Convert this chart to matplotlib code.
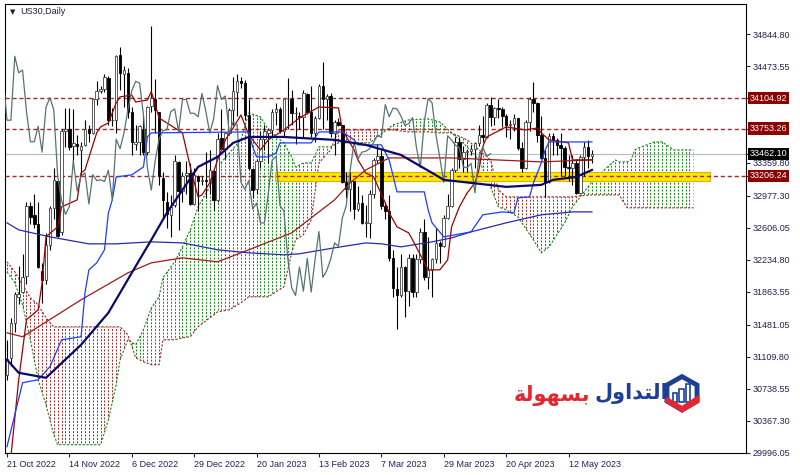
import numpy as np
import matplotlib
matplotlib.use("Agg")
import matplotlib.pyplot as plt
import matplotlib.transforms as mtransforms
from matplotlib.path import Path
from matplotlib.patches import Rectangle, Polygon

plt.rcParams['font.family'] = ['Liberation Sans', 'DejaVu Sans']

# US30 daily candles, 21 Oct 2022 .. 22 May 2023 (x = bar number)
opens = [30900, 31100, 31500, 31800, 31860, 32050, 32860, 32750, 32650, 32100,
         32000, 32400, 32830, 33150, 32550, 33720, 33750, 33550, 33580, 33500,
         33560, 33750, 33700, 34100, 34190, 34210, 34340, 33850, 33850, 34600,
         34380, 34400, 33950, 33580, 33600, 33750, 33480, 34010, 34100, 33950,
         33180, 32900, 32750, 32870, 33370, 33030, 33210, 33240, 32880, 33200,
         33150, 33160, 33140, 33260, 32930, 33640, 33520, 33700, 33970, 34180,
         34300, 34280, 33910, 33290, 33050, 33380, 33630, 33700, 33740, 33950,
         33980, 33720, 34090, 34090, 33930, 33900, 33890, 34150, 33950, 33700,
         33870, 34250, 34090, 34130, 33700, 33830, 33800, 33130, 33050, 33150,
         32820, 32890, 32660, 32660, 33000, 33390, 33430, 32860, 32800, 32250,
         31900, 31820, 32150, 31870, 32250, 31860, 32240, 32560, 32030, 32110,
         32240, 32430, 32390, 32720, 32860, 33270, 33600, 33400, 33480, 33490,
         33520, 33590, 33680, 33650, 34030, 33890, 33990, 33980, 33900, 33790,
         33810, 33880, 33530, 33300, 33830, 34100, 34050, 33680, 33410, 33130,
         33670, 33620, 33560, 33530, 33310, 33300, 33350, 33010, 33420, 33540,
         33430]
highs = [31300, 31560, 31860, 32160, 32300, 32900, 32900, 33000, 32900, 32200,
         32540, 32860, 33300, 33160, 33750, 33990, 33990, 33980, 33680, 33600,
         33850, 33800, 34110, 34300, 34250, 34390, 34360, 33990, 34600, 34700,
         34480, 34450, 34000, 33800, 33800, 33900, 34020, 34940, 34330, 33950,
         33250, 33020, 32980, 33450, 33380, 33250, 33380, 33350, 33300, 33220,
         33200, 33480, 33500, 33270, 33700, 33980, 33710, 33990, 34350, 34390,
         34350, 34320, 34100, 33300, 33400, 33730, 33800, 33760, 33980, 34050,
         34000, 34100, 34340, 34200, 34000, 33950, 34200, 34170, 34250, 33900,
         34270, 34520, 34150, 34160, 33850, 33880, 33800, 33250, 33250, 33150,
         33090, 32980, 32870, 33040, 33410, 33570, 33510, 32900, 32980, 32350,
         32150, 32300, 32160, 32300, 32300, 32300, 32600, 32700, 32500, 32250,
         32600, 32450, 32750, 33000, 33300, 33650, 33650, 33550, 33520, 33560,
         33600, 33800, 33900, 34050, 34120, 34000, 34100, 34000, 33920, 33850,
         33920, 33880, 33600, 33850, 34120, 34290, 34060, 33900, 33500, 33700,
         33700, 33640, 33700, 33550, 33450, 33450, 33400, 33450, 33600, 33620,
         33500]
lows = [30840, 31000, 31400, 31720, 31850, 31950, 32650, 32600, 32140, 31730,
        31950, 32350, 32700, 32500, 32520, 33540, 33500, 33380, 33450, 33200,
        33550, 33600, 33690, 34030, 34160, 34180, 33800, 33780, 33700, 34200,
        34000, 33880, 33450, 33500, 33450, 33450, 33450, 33950, 33700, 33100,
        32700, 32600, 32500, 32850, 32580, 32900, 33000, 32870, 32870, 32800,
        33100, 32950, 33000, 32810, 32900, 33500, 33400, 33680, 33800, 33900,
        34220, 33850, 33270, 32950, 33000, 33300, 33500, 33350, 33650, 33800,
        33700, 33650, 33750, 33800, 33580, 33750, 33650, 33920, 33650, 33600,
        33860, 33750, 33850, 33650, 33450, 33780, 33120, 32950, 32800, 32700,
        32800, 32650, 32500, 32480, 32950, 33350, 32820, 32700, 32220, 31800,
        31430, 31800, 31570, 31700, 31800, 31800, 32200, 32000, 31900, 31800,
        32200, 32200, 32380, 32700, 32850, 33250, 33300, 33250, 33250, 33450,
        33300, 33550, 33600, 33640, 33780, 33800, 33880, 33770, 33650, 33630,
        33720, 33500, 33250, 33290, 33730, 33950, 33600, 33400, 32960, 33120,
        33450, 33450, 33200, 33200, 33150, 33100, 33000, 32990, 33200, 33300,
        33350]
closes = [31080, 31500, 31840, 31840, 32030, 32860, 32730, 32650, 32150, 32000,
          32400, 32830, 33160, 32510, 33720, 33750, 33540, 33590, 33550, 33550,
          33750, 33700, 34100, 34190, 34210, 34350, 33850, 33850, 34590, 34400,
          34430, 33950, 33600, 33600, 33780, 33480, 34000, 34110, 33970, 33200,
          32920, 32760, 32850, 33380, 33030, 33200, 33240, 32880, 33220, 33150,
          33160, 33140, 33270, 32930, 33630, 33520, 33700, 33970, 34190, 34300,
          34280, 33910, 33300, 33040, 33380, 33630, 33730, 33740, 33950, 33980,
          33720, 34090, 34090, 33930, 33930, 33890, 34160, 33950, 33700, 33870,
          34250, 34090, 34130, 33700, 33830, 33800, 33130, 33050, 33150, 32820,
          32890, 32660, 32660, 33000, 33390, 33430, 32860, 32800, 32250, 31910,
          31820, 32150, 31870, 32250, 31860, 32240, 32560, 32030, 32110, 32240,
          32430, 32390, 32720, 32860, 33270, 33600, 33400, 33480, 33490, 33520,
          33590, 33680, 33650, 34030, 33890, 33990, 33980, 33900, 33790, 33810,
          33880, 33530, 33300, 33830, 34100, 34050, 33680, 33410, 33130, 33670,
          33620, 33560, 33530, 33310, 33300, 33350, 33010, 33420, 33540, 33430,
          33462.1]

date_ticks = [0, 16, 32, 48, 64, 80, 96, 112, 128, 144]
date_labels = ['21 Oct 2022', '14 Nov 2022', '6 Dec 2022', '29 Dec 2022', '20 Jan 2023',
               '13 Feb 2023', '7 Mar 2023', '29 Mar 2023', '20 Apr 2023', '12 May 2023']

# indicator lines (bar number, price)
tenkan_idx = [1, 3, 5, 8, 9, 10, 13, 14, 18, 19, 20, 23, 24, 26, 28, 29, 32, 33, 36, 37,
              39, 45, 47, 49, 50, 52, 54, 56, 58, 60, 62, 65, 67, 71, 75, 80, 85, 86, 89,
              90, 92, 94, 97, 98, 100, 103, 104, 108, 111, 113, 114, 116, 118, 120, 121,
              122, 123, 128, 133, 136, 137, 139, 144, 145, 150]
tenkan_val = [29950, 30844, 31539, 31654, 31967, 32499, 32615, 32846, 32927, 33240, 33274,
              33703, 33772, 33818, 34050, 34120, 34140, 34060, 34084, 34180, 33876, 33703,
              33309, 32962, 32985, 33124, 33390, 33622, 33760, 33911, 33679, 33506, 33622,
              33737, 33876, 34003, 33992, 33737, 33506, 33390, 33240, 33193, 32892, 32777,
              32615, 32545, 32464, 32117, 32117, 32233, 32615, 32846, 33008, 33124, 33274,
              33541, 33656, 33772, 33737, 33760, 33703, 33622, 33587, 33390, 33390]
kijun_idx = [0, 4, 8, 11, 14, 19, 20, 21, 23, 25, 26, 27, 28, 32, 35, 36, 37, 62, 63, 64,
             67, 69, 70, 78, 80, 86, 89, 90, 96, 98, 100, 107, 108, 109, 112, 119, 122,
             127, 130, 131, 134, 135, 137, 138, 139, 150]
kijun_val = [30069, 30810, 30844, 30995, 31307, 31342, 31851, 32117, 32198, 32349, 32777,
             32927, 33193, 33217, 33309, 33656, 33703, 33714, 33541, 33425, 33425, 33471,
             33587, 33587, 33714, 33714, 33622, 33564, 33564, 33390, 33020, 33020, 32812,
             32661, 32499, 32557, 32754, 32788, 32777, 32950, 32962, 33124, 33355, 33506,
             33598, 33598]
chikou_shift = 26

ma_red_idx = [0, 4, 19, 31, 37, 45, 54, 62, 73, 84, 88, 92, 98, 114, 137, 150]
ma_red_val = [31388, 31342, 31770, 32082, 32198, 32256, 32210, 32349, 32545, 32927, 33124,
              33274, 33413, 33413, 33367, 33390]
ma_blue_idx = [0, 3, 11, 21, 28, 37, 45, 54, 62, 71, 75, 84, 92, 96, 101, 109, 114, 119,
               128, 137, 145, 150]
ma_blue_val = [32661, 32580, 32499, 32418, 32418, 32441, 32429, 32349, 32314, 32291, 32303,
               32372, 32429, 32418, 32383, 32441, 32487, 32557, 32661, 32754, 32788, 32788]
ma_navy_idx = [0, 3, 10, 19, 26, 32, 37, 41, 45, 49, 54, 58, 62, 71, 75, 84, 92, 101, 109,
               112, 119, 128, 137, 140, 146, 150]
ma_navy_val = [31076, 30925, 30867, 31249, 31620, 32082, 32464, 32777, 33043, 33309, 33425,
               33587, 33656, 33656, 33645, 33622, 33564, 33448, 33240, 33159, 33124, 33078,
               33101, 33159, 33193, 33274]

# ichimoku cloud, shifted 26 bars ahead
cloud_idx = [0, 2, 4, 6, 8, 10, 12, 13, 24, 26, 28, 29, 31, 33, 35, 37, 39, 40, 43, 45,
             47, 49, 52, 54, 57, 60, 62, 65, 67, 71, 73, 74, 76, 78, 80, 83, 85, 93, 99,
             103, 108, 111, 114, 118, 121, 124, 126, 128, 131, 135, 137, 139, 143, 145,
             147, 150, 154, 156, 157, 159, 160, 161, 162, 166, 168, 171, 173, 176]
span_a = [32094, 31967, 31712, 31307, 30844, 30555, 30208, 30092, 30092, 30381, 30786,
          31076, 31307, 31249, 31423, 31677, 31805, 32025, 32210, 32383, 32580, 32846,
          33078, 33309, 33471, 33622, 33934, 33888, 33737, 33587, 33425, 33309, 33355,
          33355, 33541, 33541, 33587, 33587, 33795, 33853, 33865, 33830, 33703, 33541,
          33390, 33078, 32846, 32812, 32730, 32464, 32314, 32383, 32661, 32846, 32962,
          33136, 33309, 33390, 33367, 33367, 33390, 33506, 33529, 33598, 33598, 33506,
          33506, 33506]
span_b = [32210, 32094, 31944, 31793, 31712, 31562, 31457, 31457, 31457, 31457, 31457,
          31457, 31365, 31099, 31053, 31018, 31018, 31307, 31307, 31330, 31342, 31457,
          31562, 31631, 31654, 31735, 31805, 31805, 31805, 31920, 32314, 32464, 32522,
          32696, 33355, 33506, 33737, 33737, 33737, 33714, 33714, 33703, 33703, 33622,
          33506, 33390, 33043, 32962, 32962, 32962, 32962, 32962, 32962, 32962, 32974,
          32985, 32985, 32985, 32985, 32835, 32835, 32835, 32835, 32835, 32835, 32835,
          32835, 32835]

levels = [34104.92, 33753.26, 33206.24]
last_price = 33462.10
zone_start, zone_end = 68.7, 180.3
zone_low, zone_high = 33150, 33255
price_ticks = [34844.80, 34473.55, 33359.80, 32977.30, 32606.05, 32234.80, 31863.55,
               31481.05, 31109.80, 30738.55, 30367.30, 29996.05]

green = '#118a11'
brown = '#9e2a2a'

fig = plt.figure(figsize=(8, 4.75), dpi=100)
ax = fig.add_axes([5 / 800, 22 / 475, 741 / 800, 449 / 475])
ymin, ymax = 29996.05, 35195.4
ax.set_xlim(-0.51, 189.5)
ax.set_ylim(ymin, ymax)

# cloud: dotted verticals clipped to the span polygons
ci = np.array(cloud_idx)
sa = np.array(span_a, dtype=float)
sb = np.array(span_b, dtype=float)
up = ax.fill_between(ci, sa, sb, where=sa >= sb, interpolate=True, facecolor='none', edgecolor='none')
dn = ax.fill_between(ci, sa, sb, where=sa < sb, interpolate=True, facecolor='none', edgecolor='none')
hatch_x = np.arange(0, ci.max() + 1)
for coll, col in ((up, green), (dn, brown)):
    clip = Path.make_compound_path(*coll.get_paths())
    vl = ax.vlines(hatch_x, ymin, ymax, colors=col, linestyles=[(0, (2, 1.5))], lw=0.7, zorder=1)
    vl.set_clip_path(clip, ax.transData)
ax.plot(ci, sa, color=green, ls=(0, (2, 1.5)), lw=0.8, zorder=1.1)
ax.plot(ci, sb, color=brown, ls=(0, (2, 1.5)), lw=0.8, zorder=1.1)

# support zone and levels
ax.add_patch(Rectangle((zone_start, zone_low), zone_end - zone_start, zone_high - zone_low,
                       facecolor='#ffe800', edgecolor='#e0b000', lw=0.8, zorder=1.2))
for lv in levels:
    ax.axhline(lv, color='#a52a2a', ls=(0, (3, 2)), lw=1.0, zorder=1.5)
ax.axhline(last_price, color='#b8b8b8', lw=0.8, zorder=1.5)

# candles
x = np.arange(len(closes))
o = np.array(opens, dtype=float)
c = np.array(closes, dtype=float)
ax.vlines(x, lows, highs, color='black', lw=0.8, zorder=2)
bull = c >= o
body_lo = np.minimum(o, c)
body_h = np.maximum(np.abs(c - o), 6)
ax.bar(x[bull], body_h[bull], bottom=body_lo[bull], width=0.65, facecolor='white',
       edgecolor='#404040', lw=0.6, zorder=2.1)
ax.bar(x[~bull], body_h[~bull], bottom=body_lo[~bull], width=0.65, facecolor='black',
       edgecolor='black', lw=0.6, zorder=2.1)

# indicator lines
ax.plot(ma_red_idx, ma_red_val, color='#a01818', lw=0.9, zorder=3)
ax.plot(ma_blue_idx, ma_blue_val, color='#2a2aa8', lw=0.9, zorder=3)
ax.plot(tenkan_idx, tenkan_val, color='#a00000', lw=0.9, zorder=3)
ax.plot(kijun_idx, kijun_val, color='#1e3cff', lw=0.9, zorder=3)
ax.plot(x - chikou_shift, closes, color='#587272', lw=0.9, zorder=3)
ax.plot(ma_navy_idx, ma_navy_val, color='#0a0a6a', lw=1.6, zorder=3.2)

# axes styling
for s in ax.spines.values():
    s.set_color('black')
    s.set_linewidth(0.8)
ax.yaxis.tick_right()
ax.set_yticks(price_ticks + levels + [last_price])
ax.set_yticklabels([f'{p:.2f}' for p in price_ticks] + [''] * 4)
ax.tick_params(axis='y', direction='out', length=3, pad=2, labelsize=6.5, colors='#222255')
ax.set_xticks(date_ticks)
ax.set_xticklabels(date_labels)
ax.tick_params(axis='x', direction='out', length=3, pad=2, labelsize=6.5, colors='#222255')
for lab in ax.get_xticklabels():
    lab.set_ha('left')

# price tags on the right scale
tag_tr = mtransforms.offset_copy(ax.get_yaxis_transform(), fig=fig, x=4, y=0, units='dots')
for lv in levels:
    ax.text(1.0, lv, f'{lv:.2f}', transform=tag_tr, ha='left', va='center', fontsize=6.5,
            color='white', zorder=5, clip_on=False,
            bbox=dict(boxstyle='square,pad=0.18', facecolor='#8b0000', edgecolor='none'))
ax.text(1.0, last_price, f'{last_price:.2f}', transform=tag_tr, ha='left', va='center',
        fontsize=6.5, color='white', zorder=5, clip_on=False,
        bbox=dict(boxstyle='square,pad=0.18', facecolor='black', edgecolor='none'))

# title
fig.text(10 / 800, 1 - 12 / 475, '\u25BC', fontsize=5, family='DejaVu Sans', va='center', color='#202020')
fig.text(20 / 800, 1 - 12 / 475, 'US30,Daily', fontsize=6.5, va='center', color='#202040')

# logo text (arabic shaped forms, visual order)
fig.text(590 / 800, 1 - 396 / 475, '\uFE94\uFEDF\uFEEE\uFEEC\uFEB4\uFE91', fontsize=15,
         family='DejaVu Sans', weight='bold', color='#e3262f', ha='right', va='center')
fig.text(594 / 800, 1 - 393 / 475, '\uFEDD\uFEED\uFE8D\uFEAA\uFE98\uFEDF\uFE8D', fontsize=15,
         family='DejaVu Sans', weight='bold', color='#1d3f9a', ha='left', va='center')

# logo icon
lax = fig.add_axes([663 / 800, 1 - 414 / 475, 38 / 800, 41 / 475])
lax.set_xlim(0, 1)
lax.set_ylim(0, 1)
lax.axis('off')
hexa = np.array([(0.5, 0.98), (0.96, 0.74), (0.96, 0.28), (0.5, 0.03), (0.04, 0.28), (0.04, 0.74)])
lax.add_patch(Polygon(hexa, closed=True, facecolor='#1d3f9a', edgecolor='none'))
lax.add_patch(Polygon(0.5 + (hexa - 0.5) * 0.72, closed=True, facecolor='white', edgecolor='none'))
for bx, bh in ((0.26, 0.22), (0.43, 0.32), (0.60, 0.44)):
    lax.add_patch(Rectangle((bx, 0.3), 0.12, bh, facecolor='white', edgecolor='#1d3f9a', lw=1.2))
lax.add_patch(Polygon([(0.04, 0.30), (0.5, 0.03), (0.96, 0.28), (0.96, 0.48), (0.5, 0.20), (0.1, 0.42)],
                      closed=True, facecolor='#e3262f', edgecolor='none'))

fig.savefig('out.png', dpi=100)
